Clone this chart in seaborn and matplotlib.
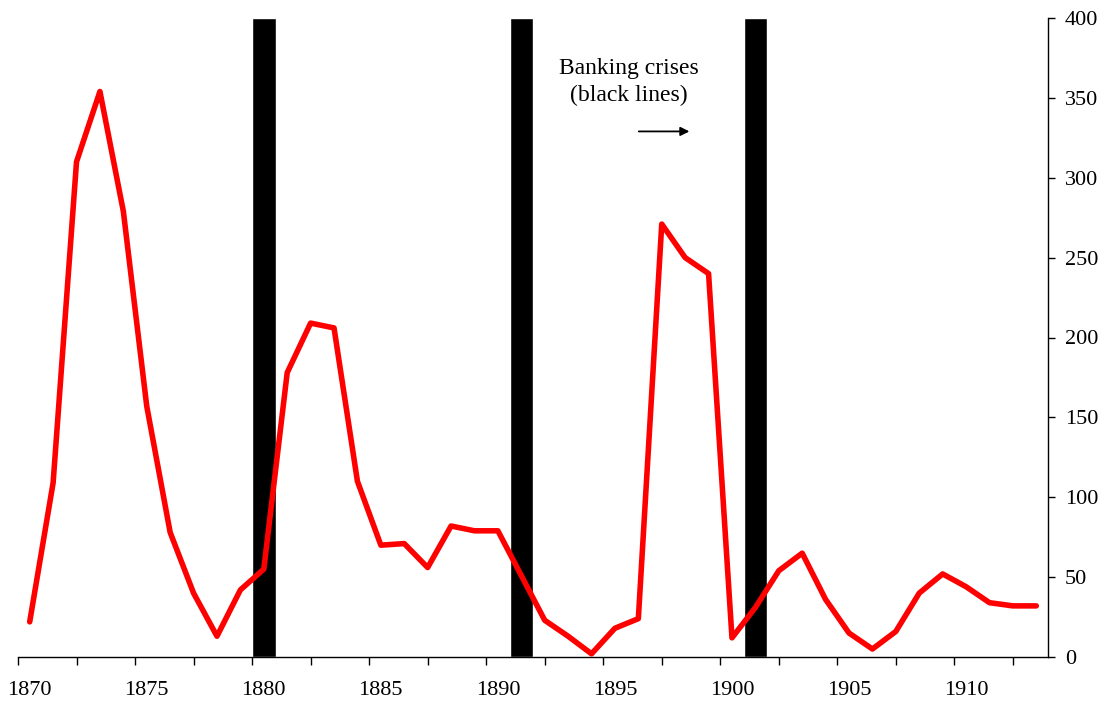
import numpy as np
import pandas as pd
import matplotlib
matplotlib.use("Agg")
import matplotlib.pyplot as plt
import seaborn as sns

# data
years = list(range(1870, 1914))
values = [22, 109, 310, 354, 279, 157, 78, 40, 13, 42,
          55, 178, 209, 206, 110, 70, 71, 56, 82, 79,
          79, 51, 23, 13, 2, 18, 24, 271, 250, 240,
          12, 31, 54, 65, 36, 15, 5, 16, 40, 52,
          44, 34, 32, 32]
crisis_years = [1880, 1891, 1901]
crisis_height = [400, 400, 400]
label_years = [1870, 1875, 1880, 1885, 1890, 1895, 1900, 1905, 1910]

df = pd.DataFrame({"year": np.array(years) + 0.5, "value": values})

sns.set_style("white")
plt.rcParams["font.family"] = ["Liberation Serif", "DejaVu Serif"]
plt.rcParams.update({"text.color": "black", "xtick.color": "black",
                     "ytick.color": "black", "axes.labelcolor": "black"})

fig = plt.figure(figsize=(11.02, 7.07), dpi=100)
ax = fig.add_axes([18 / 1102, 1 - 657 / 707, (1048 - 18) / 1102, (657 - 18) / 707])

ax.bar(crisis_years, crisis_height, width=1, align="edge", color="black", zorder=1)
sns.lineplot(data=df, x="year", y="value", color="#ff0000", linewidth=4, ax=ax, zorder=3)

ax.set_xlim(1870, 1914)
ax.set_ylim(0, 400)

# spines
ax.spines["left"].set_visible(False)
ax.spines["top"].set_visible(False)
for s in ["bottom", "right"]:
    ax.spines[s].set_color("black")
    ax.spines[s].set_linewidth(1.0)

# y axis on right
ax.yaxis.tick_right()
ax.set_yticks(range(0, 401, 50))
ax.tick_params(axis="y", which="major", direction="out", length=5, width=1,
               color="black", labelcolor="black", labelsize=16, pad=7,
               right=True, left=False)

# x ticks: marks every 2.5 years, labels centred on the year
ax.set_xticks(np.arange(1870, 1914, 2.5))
ax.set_xticklabels([])
ax.set_xticks([y + 0.5 for y in label_years], minor=True)
ax.set_xticklabels([str(y) for y in label_years], minor=True)
ax.tick_params(axis="x", which="major", direction="out", length=6, width=1,
               color="black", bottom=True)
ax.tick_params(axis="x", which="minor", length=0, labelsize=16, pad=17,
               labelcolor="black")

ax.set_xlabel("")
ax.set_ylabel("")

ax.text(1896.1, 360, "Banking crises\n(black lines)", ha="center", va="center",
        fontsize=17, linespacing=1.4, color="black")
ax.annotate("", xy=(1898.8, 329), xytext=(1896.4, 329),
            arrowprops=dict(arrowstyle="-|>", color="black", lw=1.3, mutation_scale=13))

fig.savefig("out.png", dpi=100)
